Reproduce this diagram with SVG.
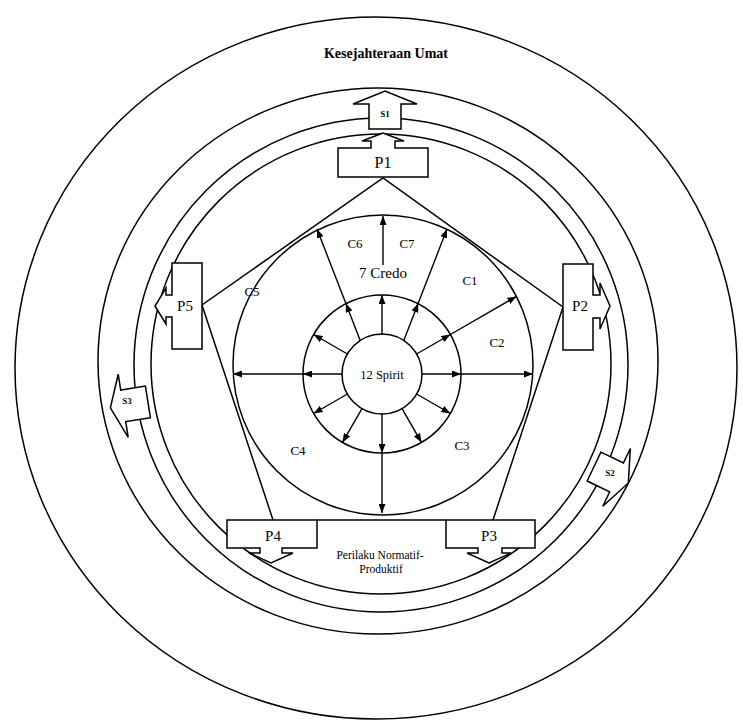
<svg xmlns="http://www.w3.org/2000/svg" width="743" height="722" viewBox="0 0 743 722">
<defs>
<style>
.ln{fill:none;stroke:#000;stroke-width:1.5}
.bx{fill:#fff;stroke:#000;stroke-width:1.5;stroke-linejoin:miter}
.t{font-family:'Liberation Serif','Times New Roman','DejaVu Serif',serif;fill:#000;text-anchor:middle}
.a{fill:none;stroke:#000;stroke-width:1.4;marker-end:url(#ah)}
</style>
<marker id="ah" markerUnits="userSpaceOnUse" markerWidth="9" markerHeight="7" refX="9" refY="3.5" orient="auto"><path d="M0,0 L9,3.5 L0,7 z" fill="#000"/></marker>
</defs>
<rect width="743" height="722" fill="#fff"/>
<g id="rings">
<ellipse class="ln" cx="376" cy="368" rx="361" ry="351"/>
<ellipse class="ln" cx="378" cy="361" rx="280" ry="273"/>
<circle class="ln" cx="381" cy="365" r="247"/>
<circle class="ln" cx="381" cy="364" r="230"/>
<circle class="ln" cx="383" cy="365" r="150"/>
<circle class="ln" cx="382" cy="374" r="79"/>
<circle class="ln" cx="382" cy="374" r="40"/>
</g>
<g id="connectors">
<polyline class="ln" points="493,520 563,307 383,178 202,305 273,520"/>
<line class="a" x1="422" y1="374" x2="461" y2="374"/>
<line class="a" x1="461" y1="374" x2="533" y2="374"/>
<line class="a" x1="416.6" y1="354" x2="450.4" y2="334.5"/>
<line class="a" x1="450.4" y1="334.5" x2="516.4" y2="296.4"/>
<line class="a" x1="404" y1="340" x2="418.2" y2="303.3"/>
<line class="a" x1="418.2" y1="303.3" x2="447" y2="229"/>
<line class="a" x1="382" y1="334" x2="382" y2="295"/>
<line class="a" x1="383" y1="265" x2="383" y2="216"/>
<line class="a" x1="360" y1="340" x2="345.8" y2="303.3"/>
<line class="a" x1="345.8" y1="303.3" x2="317" y2="229"/>
<line class="a" x1="347.4" y1="354" x2="313.6" y2="334.5"/>
<line class="a" x1="342" y1="374" x2="303" y2="374"/>
<line class="a" x1="303" y1="374" x2="233" y2="374"/>
<line class="a" x1="347.4" y1="394" x2="313.6" y2="413.5"/>
<line class="a" x1="362" y1="408.6" x2="342.5" y2="442.4"/>
<line class="a" x1="382" y1="414" x2="382" y2="453"/>
<line class="a" x1="382" y1="453" x2="382" y2="513"/>
<line class="a" x1="402" y1="408.6" x2="421.5" y2="442.4"/>
<line class="a" x1="416.6" y1="394" x2="450.4" y2="413.5"/>
</g>
<g id="S1" transform="translate(385,365)">
<polygon class="bx" points="-16,-236 -16,-261 -32,-261 0,-274 32,-261 16,-261 16,-236"/>
</g>
<g id="S2" transform="translate(381,365) rotate(115.5)">
<polygon class="bx" points="-16,-236 -16,-261 -32,-261 0,-274 32,-261 16,-261 16,-236"/>
</g>
<g id="S3" transform="translate(381,365) rotate(-99)">
<polygon class="bx" points="-16,-236 -16,-261 -32,-261 0,-274 32,-261 16,-261 16,-236"/>
</g>
<g id="P1">
<polygon class="bx" points="338,177 428,177 428,148 395,148 395,141 404,141 383,133 362,141 371,141 371,148 338,148"/>
<text class="t" x="383" y="168" font-size="16">P1</text>
</g>
<g id="P5">
<polygon class="bx" points="172,263 202,263 202,349 172,349 172,317 166,317 166,324 155,306 166,288 166,295 172,295"/>
<text class="t" x="185" y="311" font-size="15">P5</text>
</g>
<g id="P2">
<polygon class="bx" points="593,264 563,264 563,350 593,350 593,318 600,318 600,329 610,306 600,283 600,295 593,295"/>
<text class="t" x="580" y="311" font-size="15">P2</text>
</g>
<g id="bar">
<line class="ln" x1="317" y1="520" x2="446" y2="520"/>
</g>
<g id="P4">
<polygon class="bx" points="227,520 317,520 317,548 282,548 282,553 293,553 271,563 249,553 260,553 260,548 227,548"/>
<text class="t" x="273" y="541" font-size="15">P4</text>
</g>
<g id="P3">
<polygon class="bx" points="446,520 535,520 535,548 502,548 502,553 511,553 489,563 467,553 478,553 478,548 446,548"/>
<text class="t" x="489" y="541" font-size="15">P3</text>
</g>
<g id="labels">
<text class="t" x="386" y="58" font-size="14" font-weight="bold">Kesejahteraan Umat</text>
<text class="t" x="385" y="117" font-size="9" font-weight="bold">S1</text>
<text class="t" x="610" y="476" font-size="9" font-weight="bold">S2</text>
<text class="t" x="127" y="404" font-size="9" font-weight="bold">S3</text>
<text class="t" x="383" y="278" font-size="15">7 Credo</text>
<text class="t" x="382" y="379" font-size="12.5">12 Spirit</text>
<text class="t" x="355" y="248" font-size="13">C6</text>
<text class="t" x="407" y="248" font-size="13">C7</text>
<text class="t" x="470" y="285" font-size="13">C1</text>
<text class="t" x="497" y="347" font-size="13">C2</text>
<text class="t" x="462" y="450" font-size="13">C3</text>
<text class="t" x="298" y="455" font-size="13">C4</text>
<text class="t" x="252" y="296" font-size="13">C5</text>
<text class="t" x="380" y="559" font-size="11.5">Perilaku Normatif-</text>
<text class="t" x="381" y="573" font-size="11.5">Produktif</text>
</g>
</svg>
